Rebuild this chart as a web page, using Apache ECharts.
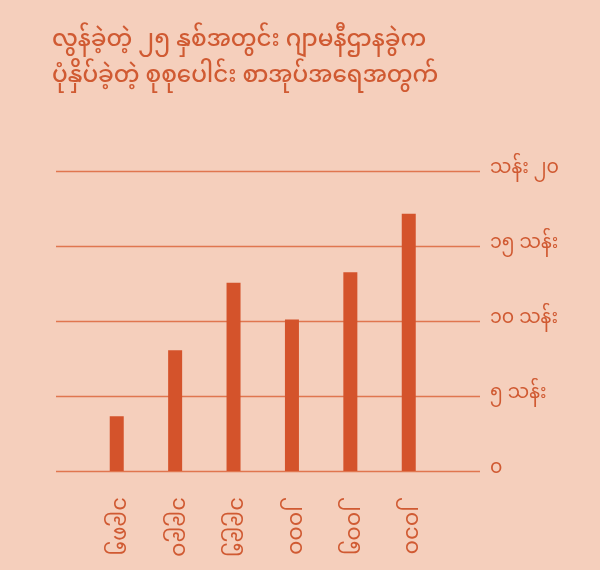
<!DOCTYPE html>
<html>
<head>
<meta charset="utf-8">
<script src="https://cdn.jsdelivr.net/npm/echarts@6/dist/echarts.min.js"></script>
<style>
  html, body { margin: 0; padding: 0; background: #f5cfbc; }
  #chart { width: 600px; height: 570px; }
</style>
</head>
<body>
<div id="chart"></div>
<script>
// years drawn along a value axis so the bars sit inside the wider gridlines
const years = [1985, 1990, 1995, 2000, 2005, 2010];
const yearLabels = ['၁၉၈၅', '၁၉၉၀', '၁၉၉၅', '၂၀၀၀', '၂၀၀၅', '၂၀၁၀'];
// millions of books
const books = [3.65, 8.05, 12.55, 10.1, 13.25, 17.15];
const yTicks = [0, 5, 10, 15, 20];
const yTickLabels = ['၀', '၅ သန်း', '၁၀ သန်း', '၁၅ သန်း', 'သန်း ၂၀'];

const titleLines = [
  'လွန်ခဲ့တဲ့ ၂၅ နှစ်အတွင်း ဂျာမနီဌာနခွဲက',
  'ပုံနှိပ်ခဲ့တဲ့ စုစုပေါင်း စာအုပ်အရေအတွက်'
];

const orange = '#d4532b';
const textColor = '#d05a32';
const font = '"Noto Sans Myanmar", "Noto Sans", sans-serif';

const chart = echarts.init(document.getElementById('chart'));
chart.setOption({
  backgroundColor: '#f5cfbc',
  animation: false,
  title: {
    text: titleLines.join('\n'),
    left: 47,
    top: 21,
    textStyle: { color: textColor, fontFamily: font, fontSize: 23, fontWeight: 500, lineHeight: 36 }
  },
  grid: { left: 56, right: 120, top: 171, bottom: 99 },
  xAxis: {
    type: 'value',
    min: 1979.8,
    max: 2016.1,
    splitLine: { show: false },
    axisLine: { show: false },
    axisTick: { show: false },
    axisLabel: {
      customValues: years,
      rotate: -90,
      margin: 26,
      color: textColor,
      fontFamily: font,
      fontSize: 22,
      formatter: v => yearLabels[years.indexOf(v)] || ''
    }
  },
  yAxis: {
    type: 'value',
    position: 'right',
    min: 0,
    max: 20,
    interval: 5,
    axisLine: { show: false },
    axisTick: { show: false },
    splitLine: { lineStyle: { color: '#e0764f', width: 1.3 } },
    axisLabel: {
      margin: 10,
      color: textColor,
      fontFamily: font,
      fontSize: 19,
      formatter: v => yTickLabels[yTicks.indexOf(v)]
    }
  },
  series: [{
    type: 'bar',
    barWidth: 14,
    itemStyle: { color: orange },
    data: years.map((y, i) => [y, books[i]])
  }]
});
</script>
</body>
</html>
